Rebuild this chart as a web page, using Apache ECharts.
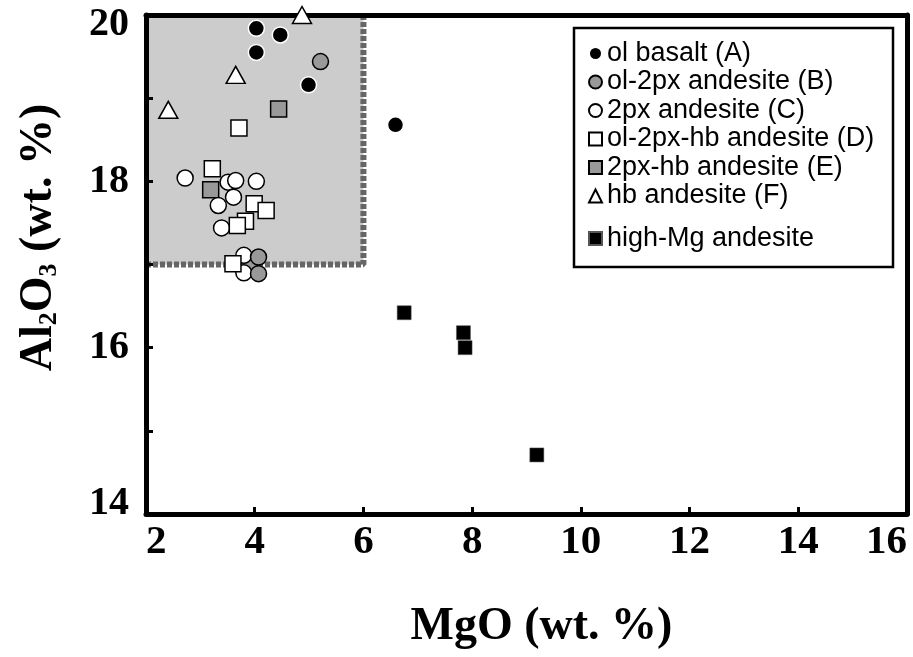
<!DOCTYPE html>
<html>
<head>
<meta charset="utf-8">
<script src="https://cdn.jsdelivr.net/npm/echarts@6/dist/echarts.min.js"></script>
<style>
  html, body { margin: 0; background: #fff; }
  #main { width: 913px; height: 657px; }
</style>
</head>
<body>
<div id="main"></div>
<script>
// values: MgO (x) and Al2O3 (y), wt. %
var olBasaltX = [4.03, 4.47, 4.03, 4.99, 6.59];
var olBasaltY = [19.84, 19.76, 19.55, 19.16, 18.68];
var ol2pxX = [5.21, 4.07, 4.07];
var ol2pxY = [19.44, 17.09, 16.89];
var px2X = [2.72, 3.51, 3.65, 4.03, 3.61, 3.33, 3.39, 3.80, 3.80];
var px2Y = [18.04, 17.99, 18.01, 18.00, 17.81, 17.71, 17.44, 17.11, 16.90];
var ol2pxHbX = [3.22, 3.71, 3.99, 4.21, 3.83, 3.68, 3.60];
var ol2pxHbY = [18.15, 18.64, 17.73, 17.65, 17.52, 17.47, 17.01];
var px2HbX = [4.44, 3.19, 3.90];
var px2HbY = [18.87, 17.90, 17.00];
var hbX = [4.87, 3.65, 2.41];
var hbY = [20.00, 19.28, 18.86];
var highMgX = [6.75, 7.84, 7.87, 9.19];
var highMgY = [16.42, 16.18, 16.00, 14.71];

// shaded field
var fieldX = [2, 6];
var fieldY = [17, 20];

var yLabelValues = [14, 16, 18, 20];

var groupNames = ['ol basalt (A)', 'ol-2px andesite (B)', '2px andesite (C)',
  'ol-2px-hb andesite (D)', '2px-hb andesite (E)', 'hb andesite (F)'];
var highMgName = 'high-Mg andesite';

function pts(xs, ys) {
  return xs.map(function (x, i) { return [x, ys[i]]; });
}

var serif = 'Liberation Serif';
var sans = 'Liberation Sans';

var myChart = echarts.init(document.getElementById('main'));

myChart.setOption({
  animation: false,
  grid: { left: 146, right: 6, top: 15, bottom: 143, outerBoundsMode: 'none' },
  legend: [
    {
      data: groupNames, orient: 'vertical', left: 588, top: 40, padding: 0,
      itemWidth: 13, itemHeight: 13, itemGap: 1.5, selectedMode: false,
      textStyle: { fontFamily: sans, fontSize: 27, color: '#000' }
    },
    {
      data: [highMgName], orient: 'vertical', left: 588, top: 225, padding: 0,
      itemWidth: 13, itemHeight: 13, selectedMode: false,
      textStyle: { fontFamily: sans, fontSize: 27, color: '#000' }
    }
  ],
  graphic: [{
    type: 'rect', z: 5, silent: true,
    shape: { x: 574, y: 28, width: 319, height: 239 },
    style: { fill: 'none', stroke: '#000', lineWidth: 2.5 }
  }],
  xAxis: [
    {
      type: 'value', min: 2, max: 16, interval: 2, z: 3,
      name: 'MgO (wt. %)', nameLocation: 'middle', nameGap: 90, nameMoveOverlap: false,
      nameTextStyle: { fontFamily: serif, fontWeight: 'bold', fontSize: 46, color: '#000', padding: [0, 0, 0, 30] },
      axisLine: { show: true, lineStyle: { color: '#000', width: 5 } },
      axisTick: { show: true, inside: true, length: 7, lineStyle: { color: '#000', width: 3 } },
      axisLabel: {
        fontFamily: serif, fontWeight: 'bold', fontSize: 41, lineHeight: 40, color: '#000', margin: 8,
        alignMinLabel: 'left', alignMaxLabel: 'right'
      },
      splitLine: { show: false }
    },
    {
      type: 'value', position: 'top', min: 2, max: 16, z: 3,
      axisLine: { show: true, lineStyle: { color: '#000', width: 5 } },
      axisTick: { show: false }, axisLabel: { show: false }, splitLine: { show: false }
    }
  ],
  yAxis: [
    {
      type: 'value', min: 14, max: 20, interval: 1, z: 3,
      name: '{n|Al}{s|2}{n|O}{s|3}{n| (wt. %)}', nameLocation: 'middle', nameRotate: 90,
      nameGap: 84, nameMoveOverlap: false,
      nameTextStyle: {
        fontFamily: serif, fontWeight: 'bold', fontSize: 46, color: '#000', padding: [0, 0, 0, 54],
        rich: {
          n: { fontFamily: serif, fontWeight: 'bold', fontSize: 46, color: '#000' },
          s: { fontFamily: serif, fontWeight: 'bold', fontSize: 26, color: '#000', verticalAlign: 'bottom' }
        }
      },
      axisLine: { show: true, lineStyle: { color: '#000', width: 5 } },
      axisTick: { show: true, inside: true, length: 7, lineStyle: { color: '#000', width: 3 } },
      axisLabel: {
        fontFamily: serif, fontWeight: 'bold', fontSize: 40, lineHeight: 20, color: '#000', margin: 17,
        verticalAlignMinLabel: 'bottom', verticalAlignMaxLabel: 'top',
        formatter: function (v) { return yLabelValues.indexOf(v) >= 0 ? String(v) : ''; }
      },
      splitLine: { show: false }
    },
    {
      type: 'value', position: 'right', min: 14, max: 20, z: 3,
      axisLine: { show: true, lineStyle: { color: '#000', width: 5 } },
      axisTick: { show: false }, axisLabel: { show: false }, splitLine: { show: false }
    }
  ],
  series: [
    {
      // dashed outline of the shaded field (bottom and right edges)
      type: 'line', z: 2, silent: true, symbol: 'none', clip: false,
      lineStyle: { color: '#666', width: 6, type: [5, 2] },
      data: [[fieldX[0], fieldY[0]], [fieldX[1], fieldY[0]], [fieldX[1], fieldY[1]]]
    },
    {
      name: groupNames[4], type: 'scatter', z: 4, symbol: 'rect', symbolSize: 16,
      itemStyle: { color: '#999', borderColor: '#000', borderWidth: 1.5, opacity: 1 },
      data: pts(px2HbX, px2HbY),
      markArea: {
        silent: true, z: 1,
        itemStyle: { color: '#cccccc', borderWidth: 0, opacity: 1 },
        data: [[{ coord: [fieldX[0], fieldY[1]] }, { coord: [fieldX[1], fieldY[0]] }]]
      }
    },
    {
      name: groupNames[2], type: 'scatter', z: 4, symbol: 'circle', symbolSize: 16,
      itemStyle: { color: '#fff', borderColor: '#000', borderWidth: 1.5, opacity: 1 },
      data: pts(px2X, px2Y)
    },
    {
      name: groupNames[1], type: 'scatter', z: 4, symbol: 'circle', symbolSize: 16,
      itemStyle: { color: '#999', borderColor: '#000', borderWidth: 1.5, opacity: 1 },
      data: pts(ol2pxX, ol2pxY)
    },
    {
      name: groupNames[3], type: 'scatter', z: 4, symbol: 'rect', symbolSize: 16,
      itemStyle: { color: '#fff', borderColor: '#000', borderWidth: 1.5, opacity: 1 },
      data: pts(ol2pxHbX, ol2pxHbY)
    },
    {
      name: groupNames[0], type: 'scatter', z: 4, symbol: 'circle', symbolSize: 16,
      itemStyle: { color: '#000', borderColor: '#fff', borderWidth: 1.5, opacity: 1 },
      data: pts(olBasaltX, olBasaltY)
    },
    {
      name: groupNames[5], type: 'scatter', z: 4, symbol: 'triangle', symbolSize: [19, 17],
      itemStyle: { color: '#fff', borderColor: '#000', borderWidth: 1.5, opacity: 1 },
      data: pts(hbX, hbY)
    },
    {
      name: highMgName, type: 'scatter', z: 4, symbol: 'rect', symbolSize: 14,
      itemStyle: { color: '#000', borderColor: '#555', borderWidth: 0.5, opacity: 1 },
      data: pts(highMgX, highMgY)
    }
  ]
});
</script>
</body>
</html>
